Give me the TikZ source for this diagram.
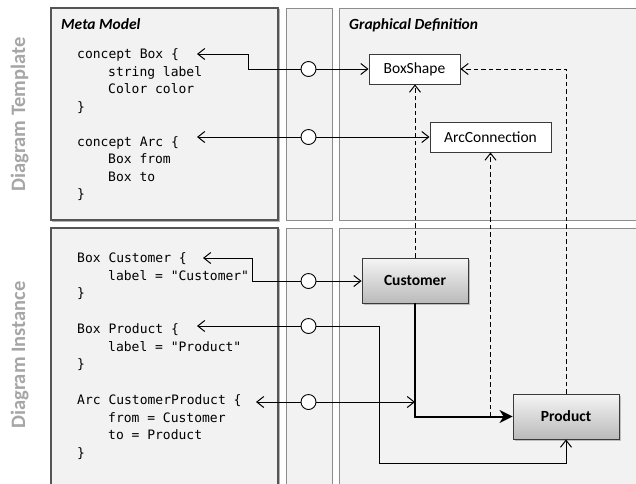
\documentclass[tikz,border=0pt]{standalone}
\usepackage{fontspec}
\setmainfont{Carlito}
\setmonofont{DejaVu Sans Mono}
\usetikzlibrary{arrows.meta,shadows}
\definecolor{panelfill}{HTML}{F2F2F2}
\definecolor{paneldark}{HTML}{555555}
\definecolor{panellight}{HTML}{8C8C8C}
\definecolor{sidegray}{HTML}{A6A6A6}
\definecolor{boxedge}{HTML}{3A3A3A}

\tikzset{
  darkpanel/.style={fill=panelfill, draw=paneldark, line width=1.4pt},
  lightpanel/.style={fill=panelfill, draw=panellight, line width=0.9pt},
  panelshadow/.style={draw=black!30, line width=1.2pt},
  sidelabel/.style={rotate=90, anchor=base, inner sep=0pt, text=sidegray,
    font=\fontsize{20.5}{22}\selectfont\bfseries},
  paneltitle/.style={anchor=base west, inner sep=0pt,
    font=\fontsize{15.5}{17}\selectfont\bfseries\itshape},
  code/.style={anchor=base west, inner sep=0pt,
    font=\ttfamily\fontsize{13}{15}\selectfont},
  plainbox/.style={draw=boxedge, fill=white, line width=0.9pt, inner sep=0pt,
    minimum height=30pt, font=\fontsize{15.5}{17}\selectfont},
  instbox/.style={draw=boxedge, line width=0.9pt, inner sep=0pt,
    top color=black!4, bottom color=black!27,
    minimum width=106pt, minimum height=45pt,
    font=\fontsize{15.5}{17}\selectfont\bfseries,
    drop shadow={shadow xshift=1.5pt, shadow yshift=-1.5pt, opacity=0.45}},
  port/.style={circle, draw=black, fill=white, line width=0.9pt,
    minimum size=15pt, inner sep=0pt},
  conn/.style={draw=black, line width=1pt,
    -{Straight Barb[length=7pt,width=11pt,line width=1pt]}},
  dconn/.style={conn, dash pattern=on 4.5pt off 3pt},
  thickconn/.style={draw=black, line width=2pt,
    -{Stealth[length=13pt,width=13pt,inset=4pt]}},
}

\begin{document}
\begin{tikzpicture}[x=1pt,y=-1pt]
\useasboundingbox (0,0) rectangle (636,483);
\fill[white] (0,0) rectangle (636,483);

% panels (they run past the right and lower edges)
\begin{scope}
  \clip (0,0) rectangle (636,483);
  \draw[panelshadow] (52.5,9.5) rectangle (279.5,221.5);
  \draw[panelshadow] (52.5,229.5) rectangle (279.5,520);
  \draw[darkpanel] (51,8) rectangle (278,220);
  \draw[darkpanel] (51,228) rectangle (278,520);
  \draw[lightpanel] (286,8) rectangle (332,220);
  \draw[lightpanel] (286,228) rectangle (332,520);
  \draw[lightpanel] (339,8) rectangle (700,220);
  \draw[lightpanel] (339,228) rectangle (700,520);
\end{scope}

% row labels
\node[sidelabel] (lbltemplate) at (25,114.5) {Diagram Template};
\node[sidelabel] (lblinstance) at (25,355) {Diagram Instance};

% panel titles
\node[paneltitle] (titlemeta) at (61,29) {Meta Model};
\node[paneltitle] (titlegraph) at (349,29) {Graphical Definition};

% meta model code
\node[code] (cbox)   at (77,58.5)  {concept Box \{};
\node[code] (cbox2)  at (108,76)   {string label};
\node[code] (cbox3)  at (108,93.5) {Color color};
\node[code] (cbox4)  at (77,111)   {\}};
\node[code] (carc)   at (77,146)   {concept Arc \{};
\node[code] (carc2)  at (108,163.5){Box from};
\node[code] (carc3)  at (108,181)  {Box to};
\node[code] (carc4)  at (77,198.5) {\}};

% instance code
\node[code] (icust)  at (77,262.5) {Box Customer \{};
\node[code] (icust2) at (108,280)  {label = "Customer"};
\node[code] (icust3) at (77,297.5) {\}};
\node[code] (iprod)  at (77,333.5) {Box Product \{};
\node[code] (iprod2) at (108,351)  {label = "Product"};
\node[code] (iprod3) at (77,368.5) {\}};
\node[code] (iarc)   at (77,404.5) {Arc CustomerProduct \{};
\node[code] (iarc2)  at (108,422)  {from = Customer};
\node[code] (iarc3)  at (108,439.5){to = Product};
\node[code] (iarc4)  at (77,457)   {\}};

% graphical definition
\node[plainbox, minimum width=91pt]  (boxshape) at (414.5,69)  {BoxShape};
\node[plainbox, minimum width=121pt] (arcconn)  at (490.5,137) {ArcConnection};

% instance shapes
\node[instbox] (customer) at (415,280.5) {Customer};
\node[instbox] (product)  at (566,416.5) {Product};

% ports
\node[port] (p1) at (308.5,69)  {};
\node[port] (p2) at (308.5,137) {};
\node[port] (p3) at (308.5,281) {};
\node[port] (p4) at (308.5,326) {};
\node[port] (p5) at (308.5,402) {};

% arrow ends beside the code
\coordinate (tbox)  at (197,54);
\coordinate (tarc)  at (197,137);
\coordinate (tcust) at (203,258);
\coordinate (tprod) at (197,326);
\coordinate (tcp)   at (256,402);
\coordinate (arcjoin) at (490.5,416.5);

% ports to code
\draw[conn] (p1.west) -- (248,69) |- (tbox);
\draw[conn] (p2.west) -- (tarc);
\draw[conn] (p3.west) -- (252,281) |- (tcust);
\draw[conn] (p4.west) -- (tprod);
\draw[conn] (p5.west) -- (tcp);

% ports to shapes
\draw[conn] (p1.east) -- (boxshape.west);
\draw[conn] (p2.east) -- (arcconn.west);
\draw[conn] (p3.east) -- (p3 -| customer.west);
\draw[conn] (p4.east) -| (379,463) -| (product.south);
\draw[conn] (p5.east) -- (p5 -| customer.south);

% instance arc
\draw[thickconn] (customer.south) |- (product.west);

% instance-of links
\draw[dconn] (customer.north) -- (customer.north |- boxshape.south);
\draw[dconn] (arcjoin) -- (arcconn.south);
\draw[dconn] (product.north) |- (boxshape.east);
\end{tikzpicture}
\end{document}
